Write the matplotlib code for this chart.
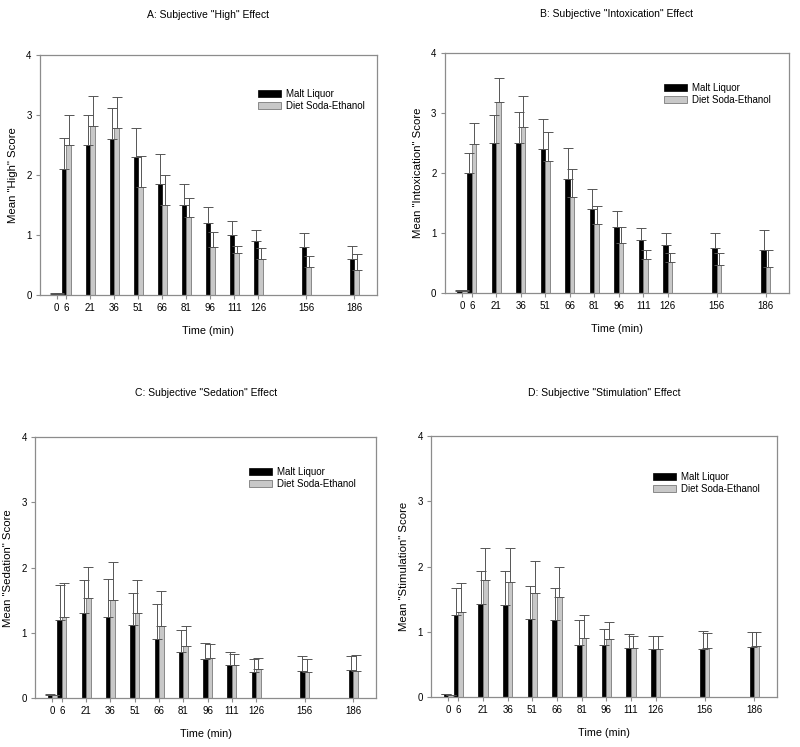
import matplotlib.pyplot as plt
import numpy as np

plt.rcParams["font.family"] = ["Liberation Sans", "DejaVu Sans"]

times = [0, 6, 21, 36, 51, 66, 81, 96, 111, 126, 156, 186]

# A: "High"
high_ml = [0.02, 2.1, 2.5, 2.6, 2.3, 1.85, 1.5, 1.2, 1.0, 0.9, 0.8, 0.6]
high_ml_top = [0.03, 2.62, 3.0, 3.12, 2.79, 2.35, 1.85, 1.47, 1.24, 1.09, 1.03, 0.82]
high_ds = [0.02, 2.5, 2.82, 2.78, 1.8, 1.5, 1.31, 0.81, 0.71, 0.6, 0.46, 0.41]
high_ds_top = [0.03, 3.0, 3.32, 3.3, 2.32, 2.01, 1.62, 1.06, 0.82, 0.78, 0.66, 0.69]

# B: "Intoxication"
intox_ml = [0.03, 2.0, 2.5, 2.5, 2.4, 1.9, 1.4, 1.1, 0.88, 0.8, 0.75, 0.72]
intox_ml_top = [0.04, 2.33, 2.96, 3.02, 2.9, 2.41, 1.73, 1.36, 1.08, 1.0, 1.0, 1.05]
intox_ds = [0.03, 2.48, 3.18, 2.77, 2.2, 1.6, 1.15, 0.83, 0.56, 0.51, 0.47, 0.43]
intox_ds_top = [0.04, 2.83, 3.58, 3.28, 2.69, 2.07, 1.45, 1.09, 0.72, 0.66, 0.66, 0.72]

# C: "Sedation"
sed_ml = [0.05, 1.2, 1.3, 1.25, 1.12, 0.9, 0.7, 0.6, 0.51, 0.4, 0.42, 0.43]
sed_ml_top = [0.06, 1.73, 1.81, 1.83, 1.61, 1.44, 1.04, 0.84, 0.7, 0.6, 0.64, 0.65]
sed_ds = [0.04, 1.25, 1.53, 1.5, 1.3, 1.1, 0.8, 0.61, 0.51, 0.45, 0.4, 0.41]
sed_ds_top = [0.05, 1.76, 2.01, 2.09, 1.81, 1.64, 1.1, 0.83, 0.67, 0.61, 0.6, 0.66]

# D: "Stimulation"
stim_ml = [0.05, 1.26, 1.42, 1.41, 1.2, 1.18, 0.8, 0.79, 0.75, 0.73, 0.74, 0.77]
stim_ml_top = [0.05, 1.67, 1.93, 1.94, 1.71, 1.67, 1.18, 1.04, 0.96, 0.94, 1.01, 0.99]
stim_ds = [0.03, 1.3, 1.8, 1.76, 1.6, 1.54, 0.9, 0.89, 0.75, 0.74, 0.75, 0.78]
stim_ds_top = [0.03, 1.75, 2.29, 2.29, 2.08, 1.99, 1.25, 1.15, 0.93, 0.93, 0.98, 0.99]

panels = [
    ("A: Subjective \"High\" Effect", "Mean \"High\" Score",
     high_ml, high_ml_top, high_ds, high_ds_top,
     [0.05, 0.605, 0.421, 0.321], (0.635, 0.875), 0.980),
    ("B: Subjective \"Intoxication\" Effect", "Mean \"Intoxication\" Score",
     intox_ml, intox_ml_top, intox_ds, intox_ds_top,
     [0.556, 0.608, 0.43, 0.321], (0.625, 0.89), 0.981),
    ("C: Subjective \"Sedation\" Effect", "Mean \"Sedation\" Score",
     sed_ml, sed_ml_top, sed_ds, sed_ds_top,
     [0.044, 0.0656, 0.426, 0.349], (0.615, 0.9), 0.474),
    ("D: Subjective \"Stimulation\" Effect", "Mean \"Stimulation\" Score",
     stim_ml, stim_ml_top, stim_ds, stim_ds_top,
     [0.539, 0.067, 0.4325, 0.349], (0.63, 0.877), 0.474),
]

frame_col = "#8c8c8c"
err_col = "#555555"
gray_fill = "#c8c8c8"
w = 2.8

fig = plt.figure(figsize=(8, 7.47), dpi=100)
t = np.array(times)

for title, ylab, ml, ml_top, ds, ds_top, pos, leg_xy, ty in panels:
    ax = fig.add_axes(pos)
    ml = np.array(ml)
    ds = np.array(ds)
    ml_err = np.array(ml_top) - ml
    ds_err = np.array(ds_top) - ds

    ax.bar(t - w / 2, ml, width=w, color="black", edgecolor="black",
           linewidth=0.5, label="Malt Liquor", zorder=2)
    ax.bar(t + w / 2, ds, width=w, color=gray_fill, edgecolor="#7a7a7a",
           linewidth=0.6, label="Diet Soda-Ethanol", zorder=2)
    ax.errorbar(t - w / 2, ml, yerr=[np.zeros_like(ml_err), ml_err], fmt="none",
                ecolor=err_col, elinewidth=0.7, capsize=3.5, capthick=0.7, zorder=3)
    ax.errorbar(t + w / 2, ds, yerr=[np.zeros_like(ds_err), ds_err], fmt="none",
                ecolor=err_col, elinewidth=0.7, capsize=3.5, capthick=0.7, zorder=3)

    ax.set_xlim(-10.5, 200)
    ax.set_ylim(0, 4)
    ax.set_xticks(times)
    ax.set_xticklabels([str(v) for v in times])
    ax.set_yticks([0, 1, 2, 3, 4])
    for s in ax.spines.values():
        s.set_color(frame_col)
        s.set_linewidth(0.9)
    ax.tick_params(direction="out", length=3, width=0.8, color=frame_col,
                   labelsize=7, pad=3)
    ax.set_xlabel("Time (min)", fontsize=7.8, labelpad=9)
    ax.set_ylabel(ylab, fontsize=8.2, labelpad=6)

    ax.legend(loc="upper left", bbox_to_anchor=leg_xy, frameon=False,
              fontsize=7, handlelength=2.4, handleheight=0.75,
              labelspacing=0.2, handletextpad=0.5, borderaxespad=0)

    cx = pos[0] + pos[2] / 2
    fig.text(cx, ty, title, ha="center", va="center", fontsize=7.5)

fig.savefig("out.png", dpi=100)
